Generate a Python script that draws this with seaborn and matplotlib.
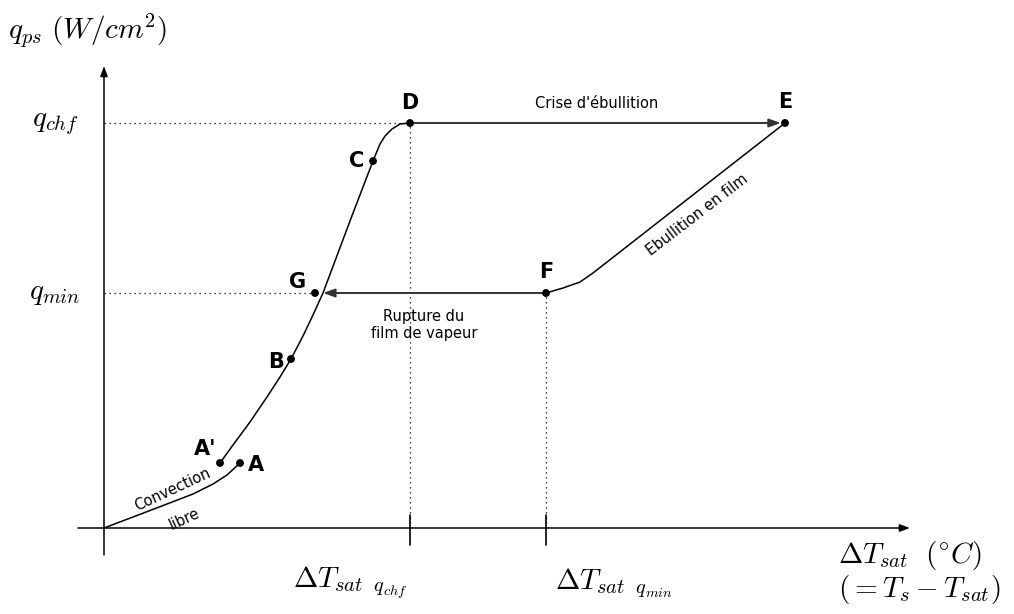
import seaborn as sns
import matplotlib.pyplot as plt
import pandas as pd
import numpy as np

sns.set_style("white")
plt.rcParams["mathtext.fontset"] = "cm"
plt.rcParams["font.family"] = ["DejaVu Sans"]
plt.rcParams["text.color"] = "black"

# ---- Boiling curve (coordinates, arbitrary units) ----
# natural convection: origin -> A
conv_x = [0, 29, 63, 89, 109, 123, 136]
conv_y = [0, 11, 24, 34, 44, 53, 65]
# nucleate boiling: A' -> B -> C -> D
nucl_x = [116, 129, 146, 163, 176, 187, 199, 209, 219, 246, 259, 269, 276, 281, 288, 296, 306]
nucl_y = [65, 83, 106, 131, 151, 169, 192, 213, 235, 307, 341, 367, 384, 392, 399, 404, 405]
# film boiling: F -> E
film_x = [442, 459, 476, 489, 681]
film_y = [235, 240, 246, 255, 405]

q_chf, q_min = 405, 235
dT_chf, dT_min = 306, 442
g_cross = 219  # where F->G meets the nucleate curve

point_names = ["A", "A'", "B", "C", "D", "E", "F", "G"]
point_x = [136, 116, 187, 269, 306, 681, 442, 211]
point_y = [65, 65, 169, 367, 405, 405, 235, 235]
label_dx = [16, -15, -15, -16, 0, 0, 0, -17]
label_dy = [-2, 14, -3, 0, 20, 21, 21, 11]

# ---- Figure: 1 data unit = 1 pixel ----
fig = plt.figure(figsize=(10.14, 6.14), dpi=100)
ax = fig.add_axes([0, 0, 1, 1])
ax.set_xlim(-104, 910)
ax.set_ylim(-86, 528)
ax.axis("off")

curves = pd.concat([
    pd.DataFrame({"x": conv_x, "y": conv_y, "seg": "conv"}),
    pd.DataFrame({"x": nucl_x, "y": nucl_y, "seg": "nucl"}),
    pd.DataFrame({"x": film_x, "y": film_y, "seg": "film"}),
])
sns.lineplot(data=curves, x="x", y="y", units="seg", estimator=None,
             sort=False, color="black", lw=1.1, ax=ax, legend=False)

# axes with arrows
arrow = dict(arrowstyle="-|>,head_length=0.6,head_width=0.22", color="black",
             lw=1.1, shrinkA=0, shrinkB=0)
ax.annotate("", xy=(806, 0), xytext=(-26, 0), arrowprops=arrow)
ax.annotate("", xy=(0, 462), xytext=(0, -27), arrowprops=arrow)

# dotted guides
dot = dict(color="black", ls=(0, (1, 3)), lw=0.9)
ax.plot([0, dT_chf], [q_chf, q_chf], **dot)
ax.plot([0, point_x[-1]], [q_min, q_min], **dot)
ax.plot([dT_chf, dT_chf], [0, q_chf], **dot)
ax.plot([dT_min, dT_min], [0, q_min], **dot)
for t in [dT_chf, dT_min]:
    ax.plot([t, t], [-17, 13], color="black", lw=1.2)

# transitions
harrow = dict(arrowstyle="-|>,head_length=0.7,head_width=0.25", color="#333333",
              lw=1.4, shrinkA=0, shrinkB=3)
ax.annotate("", xy=(point_x[5], q_chf), xytext=(point_x[4], q_chf), arrowprops=harrow)
ax.annotate("", xy=(g_cross, q_min), xytext=(dT_min, q_min),
            arrowprops=dict(harrow, shrinkB=0))

# points
sns.scatterplot(x=point_x, y=point_y, color="black", s=32, edgecolor="none",
                ax=ax, zorder=5)
for n, x, y, dx, dy in zip(point_names, point_x, point_y, label_dx, label_dy):
    ax.text(x + dx, y + dy, n, fontsize=15, fontweight="bold",
            ha="center", va="center")

# annotations
ax.text(68, 38, "Convection", fontsize=10.5, rotation=25, ha="center", va="center")
ax.text(80, 9, "libre", fontsize=10.5, rotation=25, ha="center", va="center")
ax.text(493, 424, "Crise d'ébullition", fontsize=10.5, ha="center", va="center")
ax.text(320, 203, "Rupture du\nfilm de vapeur", fontsize=10.5, ha="center",
        va="center", linespacing=1.15)
ax.text(593, 313, "Ebullition en film", fontsize=10.5, rotation=37.5,
        ha="center", va="center")

# axis labels
ax.text(-96, 498, r"$q_{ps}\ (W/cm^2)$", fontsize=21, ha="left", va="center")
ax.text(-49, q_chf, r"$q_{chf}$", fontsize=21, ha="center", va="center")
ax.text(-49, q_min, r"$q_{min}$", fontsize=21, ha="center", va="center")
ax.text(246, -55, r"$\Delta T_{sat\ \ q_{chf}}$", fontsize=21, ha="center", va="center")
ax.text(510, -55, r"$\Delta T_{sat\ \ q_{min}}$", fontsize=21, ha="center", va="center")
ax.text(734, -27, r"$\Delta T_{sat}\ \ (^{\circ}C)$", fontsize=21, ha="left", va="center")
ax.text(734, -62, r"$(= T_s - T_{sat})$", fontsize=21, ha="left", va="center")

fig.savefig("out.png", dpi=100)
plt.close(fig)
